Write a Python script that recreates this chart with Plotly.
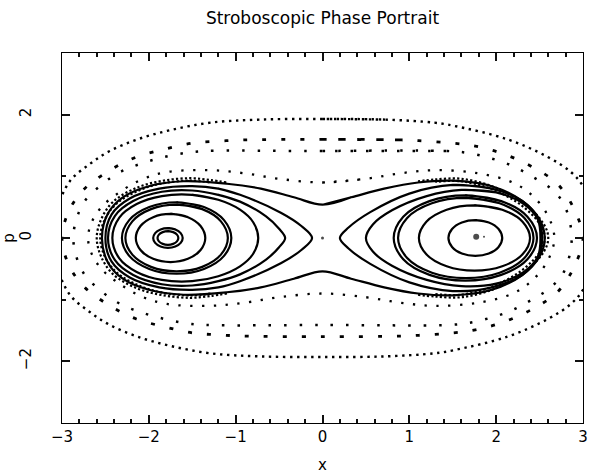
import plotly.graph_objects as go

# ---------------- data ----------------
# Each closed orbit is given by its upper half (x, p), from left extreme to right extreme;
# the lower half is its mirror image in p.
outer_ring_upper = [(-3.12, 0), (-3.06, 0.45), (-2.91, 0.92), (-2.68, 1.2), (-2.45, 1.41), (-2.13, 1.6),
                    (-1.75, 1.75), (-1.29, 1.87), (-0.72, 1.92), (0, 1.93), (0.72, 1.92), (1.29, 1.87),
                    (1.51, 1.82), (2.13, 1.6), (2.6, 1.31), (2.86, 1.07), (3.0, 0.84), (3.12, 0.42), (3.15, 0)]
chain_e_upper = [(-3.0, 0), (-2.93, 0.41), (-2.76, 0.77), (-2.47, 1.08), (-2.15, 1.31), (-1.82, 1.44),
                 (-1.49, 1.54), (-1.2, 1.57), (-0.91, 1.59), (0, 1.6), (0.91, 1.59), (1.2, 1.57), (1.49, 1.54),
                 (1.76, 1.49), (2.09, 1.36), (2.42, 1.15), (2.71, 0.87), (2.9, 0.46), (3.0, 0)]
chain_d_upper = [(-2.87, 0), (-2.76, 0.55), (-2.54, 0.87), (-2.33, 1.07), (-2.08, 1.21), (-1.83, 1.31),
                 (-1.58, 1.38), (-1.35, 1.41), (0, 1.41), (1.44, 1.41), (1.67, 1.38), (1.92, 1.3), (2.17, 1.18),
                 (2.41, 1.0), (2.63, 0.8), (2.78, 0.55), (2.87, 0)]
chain_c_upper = [(-2.7, 0), (-2.66, 0.25), (-2.54, 0.51), (-2.33, 0.75), (-2.08, 0.95), (-1.79, 1.07),
                 (-1.3, 1.1), (-0.9, 1.05), (-0.5, 0.96), (0, 0.9), (0.5, 0.96), (0.9, 1.05), (1.3, 1.1),
                 (1.79, 1.05), (2.19, 0.9), (2.43, 0.67), (2.6, 0.35), (2.67, 0)]

# chaotic layer near the separatrix (open arcs around each well, two rows of dots)
band_left_outer = [(-2.6, 0), (-2.55, 0.3), (-2.41, 0.59), (-2.13, 0.82), (-1.83, 0.93), (-1.52, 0.97),
                   (-1.29, 0.94), (-1.1, 0.9)]
band_left_inner = [(-2.56, 0), (-2.51, 0.29), (-2.37, 0.56), (-2.1, 0.78), (-1.83, 0.89), (-1.52, 0.93),
                   (-1.29, 0.9)]
band_right_outer = [(2.6, 0), (2.55, 0.22), (2.33, 0.55), (1.97, 0.83), (1.6, 0.96), (1.3, 0.95), (1.1, 0.92)]
band_right_inner = [(2.56, 0), (2.51, 0.21), (2.3, 0.52), (1.95, 0.79), (1.6, 0.92), (1.3, 0.91)]

# orbit outside the separatrix (encloses both wells)
peanut_upper = [(-2.54, 0), (-2.47, 0.4), (-2.3, 0.66), (-2.0, 0.84), (-1.6, 0.92), (-1.1, 0.88),
                (-0.71, 0.8), (-0.33, 0.66), (0, 0.54), (0.33, 0.66), (0.71, 0.8), (1.1, 0.9), (1.5, 0.93),
                (1.95, 0.84), (2.3, 0.6), (2.5, 0.3), (2.56, 0)]

# orbits inside the left well
left_orbits = [
    [(-2.5, 0), (-2.43, 0.38), (-2.22, 0.64), (-1.88, 0.8), (-1.5, 0.84), (-1.2, 0.8), (-0.95, 0.7),
     (-0.48, 0.41), (-0.24, 0.19), (-0.12, 0)],
    [(-2.47, 0), (-2.39, 0.36), (-2.18, 0.6), (-1.85, 0.75), (-1.5, 0.77), (-1.2, 0.7), (-0.95, 0.59),
     (-0.65, 0.35), (-0.5, 0.15), (-0.43, 0)],
    [(-2.42, 0), (-2.34, 0.33), (-2.14, 0.55), (-1.85, 0.68), (-1.5, 0.7), (-1.2, 0.62), (-0.95, 0.46),
     (-0.8, 0.26), (-0.74, 0)],
    [(-2.31, 0), (-2.226, 0.29), (-1.995, 0.502), (-1.68, 0.58), (-1.365, 0.502), (-1.134, 0.29), (-1.05, 0)],
    [(-2.27, 0), (-2.19, 0.27), (-1.975, 0.468), (-1.68, 0.54), (-1.385, 0.468), (-1.17, 0.27), (-1.09, 0)],
    [(-2.15, 0), (-2.096, 0.195), (-1.95, 0.338), (-1.75, 0.39), (-1.55, 0.338), (-1.404, 0.195), (-1.35, 0)],
    [(-1.95, 0), (-1.927, 0.08), (-1.865, 0.139), (-1.78, 0.16), (-1.695, 0.139), (-1.633, 0.08), (-1.61, 0)],
    [(-1.9, 0), (-1.884, 0.055), (-1.84, 0.095), (-1.78, 0.11), (-1.72, 0.095), (-1.676, 0.055), (-1.66, 0)],
]
# orbits inside the right well
right_orbits = [
    [(0.2, 0), (0.3, 0.17), (0.55, 0.42), (1.0, 0.72), (1.5, 0.86), (1.95, 0.8), (2.3, 0.6), (2.48, 0.32),
     (2.53, 0)],
    [(0.5, 0), (0.58, 0.22), (0.8, 0.45), (1.2, 0.68), (1.6, 0.78), (2.0, 0.74), (2.32, 0.55), (2.48, 0.3),
     (2.51, 0)],
    [(0.82, 0), (0.93, 0.345), (1.232, 0.598), (1.645, 0.69), (2.058, 0.598), (2.36, 0.345), (2.47, 0)],
    [(0.87, 0), (0.975, 0.325), (1.26, 0.563), (1.65, 0.65), (2.04, 0.563), (2.325, 0.325), (2.43, 0)],
    [(1.11, 0), (1.196, 0.265), (1.43, 0.459), (1.75, 0.53), (2.07, 0.459), (2.304, 0.265), (2.39, 0)],
    [(1.45, 0), (1.492, 0.145), (1.605, 0.251), (1.76, 0.29), (1.915, 0.251), (2.028, 0.145), (2.07, 0)],
]
# fixed points (single stroboscopic points)
fixed_x = [0.0, 1.77, 1.86]
fixed_p = [0.0, 0.02, 0.02]
fixed_size = [3, 6, 2]

x_range = [-3, 3]
p_range = [-3, 3]
x_major_step, x_minor_step = 1, 0.2
p_major_step, p_minor_step = 2, 1

# ---------------- helpers ----------------
def closed_path(upper):
    pts = list(upper) + [(x, -p) for x, p in upper[-2:0:-1]]
    k = len(upper) // 2
    pts = pts[k:] + pts[:k]
    pts = pts + pts[:2]
    return [a for a, b in pts], [b for a, b in pts]


def open_arc(upper):
    pts = [(x, -p) for x, p in upper[:0:-1]] + list(upper)
    return [a for a, b in pts], [b for a, b in pts]


fig = go.Figure()


def add(xs, ps, width, dash="solid"):
    fig.add_trace(go.Scatter(x=xs, y=ps, mode="lines",
                             line=dict(color="black", width=width, dash=dash, shape="spline", smoothing=1.0),
                             hoverinfo="skip", showlegend=False))


add(*closed_path(outer_ring_upper), 2.4, "2.4px,4.6px")
add(*closed_path(chain_e_upper), 2.8, "4px,15px")
add(*closed_path(chain_d_upper), 2.5, "2.5px,13px")
add(*closed_path(chain_c_upper), 2.3, "2.3px,9.5px")
for band in (band_left_outer, band_left_inner, band_right_outer, band_right_inner):
    add(*open_arc(band), 2.2, "2.2px,2.2px")
add(*closed_path(peanut_upper), 2.2)
for orb in left_orbits + right_orbits:
    add(*closed_path(orb), 2.2)

fig.add_trace(go.Scatter(x=fixed_x, y=fixed_p, mode="markers",
                         marker=dict(color="black", size=fixed_size, line=dict(width=0)),
                         hoverinfo="skip", showlegend=False))

font_family = "DejaVu Sans, Liberation Sans, sans-serif"
axis_common = dict(showgrid=False, zeroline=False, showline=True, linecolor="black", linewidth=1.4,
                   mirror="ticks", ticks="inside", tickcolor="#111111", tickwidth=2,
                   tickfont=dict(family=font_family, size=15, color="black"))

fig.update_layout(
    width=595, height=475,
    margin=dict(l=62, r=12, t=53, b=52, autoexpand=False),
    paper_bgcolor="white", plot_bgcolor="white",
    title=dict(text="Stroboscopic Phase Portrait", x=0.5, xanchor="center", xref="paper",
               y=0.962, yanchor="middle", font=dict(family=font_family, size=17, color="black")),
    xaxis=dict(range=x_range, dtick=x_major_step, ticklen=8,
               minor=dict(dtick=x_minor_step, ticks="inside", ticklen=4, tickcolor="#111111", tickwidth=1.5),
               title=dict(text="x", font=dict(family=font_family, size=15, color="black"), standoff=14),
               **axis_common),
    yaxis=dict(range=p_range, dtick=p_major_step, ticklen=8, tickangle=-90, ticklabelstandoff=24,
               minor=dict(dtick=p_minor_step, ticks="inside", ticklen=4, tickcolor="#111111", tickwidth=1.5),
               title=dict(text="p", font=dict(family=font_family, size=15, color="black"), standoff=0),
               **axis_common),
)

fig.write_html("out.html", config={"displayModeBar": False},
               post_script="document.body.style.margin='0';document.body.style.overflow='hidden';")
